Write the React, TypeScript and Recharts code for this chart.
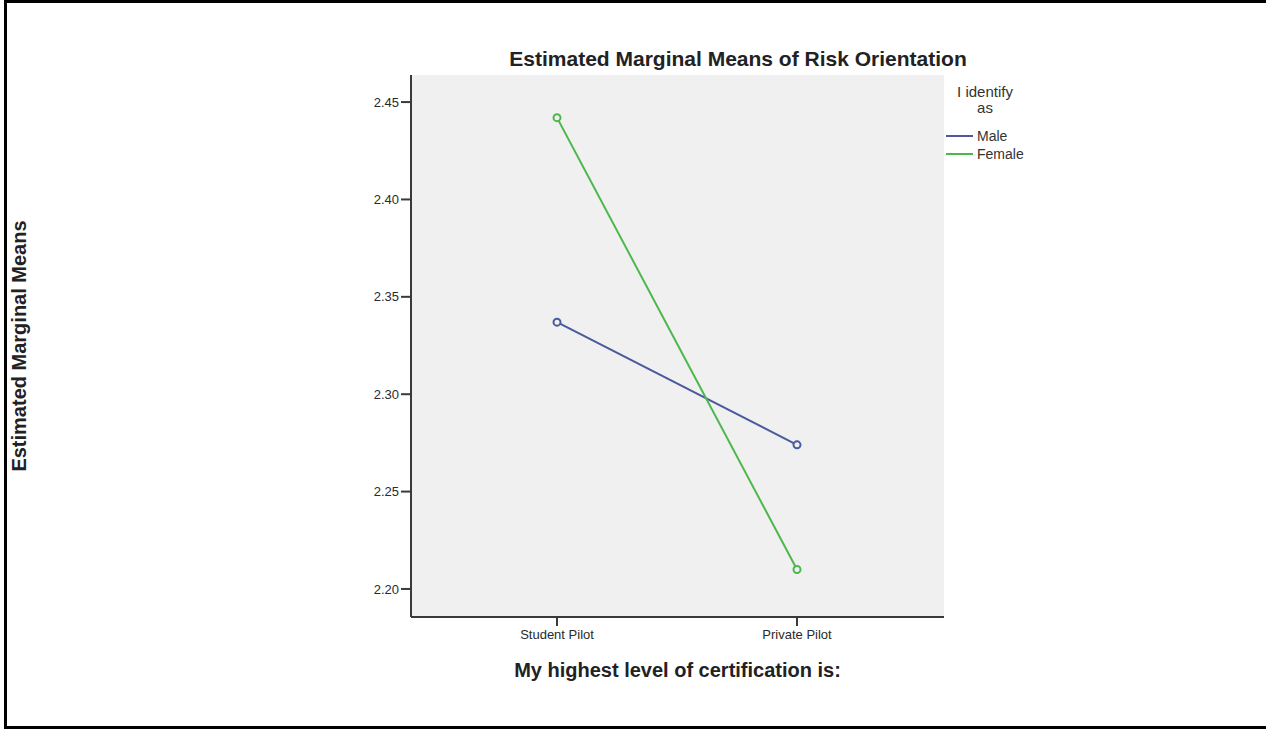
import { LineChart, Line, XAxis, YAxis, CartesianGrid } from 'recharts'

const certLevels = ['Student Pilot', 'Private Pilot']
const maleMeans = [2.337, 2.274]
const femaleMeans = [2.442, 2.21]
const yTicks = [2.2, 2.25, 2.3, 2.35, 2.4, 2.45]
const yDomain = [2.1856, 2.4639]

const series = [
  { key: 'male', name: 'Male', color: '#4a5a9c' },
  { key: 'female', name: 'Female', color: '#4cb84c' },
]

const data = certLevels.map((cert, i) => ({
  cert,
  male: maleMeans[i],
  female: femaleMeans[i],
}))

const font = '"Liberation Sans", Arial, sans-serif'
const axisColor = '#3a3a3a'

export default function App() {
  return (
    <div
      style={{
        position: 'absolute',
        left: 0,
        top: 0,
        width: 1266,
        height: 729,
        overflow: 'hidden',
        background: '#fff',
        fontFamily: font,
      }}
    >
      <div
        style={{
          position: 'absolute',
          left: 4,
          top: 0,
          width: 1300,
          height: 729,
          boxSizing: 'border-box',
          border: '3px solid #000',
        }}
      />
      <div style={{ position: 'absolute', left: 0, top: 0 }}>
        <LineChart
          width={1266}
          height={729}
          data={data}
          margin={{ top: 75, right: 322, bottom: 72, left: 341 }}
        >
          <CartesianGrid fill="#f0f0f0" horizontal={false} vertical={false} />
          <XAxis
            dataKey="cert"
            height={40}
            padding={{ left: 146, right: 147 }}
            axisLine={{ stroke: axisColor, strokeWidth: 2 }}
            tickLine={{ stroke: axisColor, strokeWidth: 2 }}
            tickSize={9}
            tickMargin={4}
            tick={{ fontSize: 13, fill: '#2a2a2a', fontFamily: font }}
          />
          <XAxis
            xAxisId="top"
            dataKey="cert"
            orientation="top"
            height={0}
            tick={false}
            tickLine={false}
            axisLine={{ stroke: axisColor, strokeWidth: 2 }}
          />
          <YAxis
            width={70}
            type="number"
            domain={yDomain}
            ticks={yTicks}
            interval={0}
            allowDataOverflow
            tickFormatter={(v: number) => v.toFixed(2)}
            axisLine={{ stroke: axisColor, strokeWidth: 2 }}
            tickLine={{ stroke: axisColor, strokeWidth: 2 }}
            tickSize={10}
            tickMargin={2}
            tick={{ fontSize: 13, fill: '#2a2a2a', fontFamily: font }}
          />
          <YAxis
            yAxisId="right"
            orientation="right"
            width={0}
            type="number"
            domain={yDomain}
            tick={false}
            tickLine={false}
            axisLine={{ stroke: axisColor, strokeWidth: 2 }}
          />
          {series.map((s) => (
            <Line
              key={s.key}
              type="linear"
              dataKey={s.key}
              name={s.name}
              stroke={s.color}
              strokeWidth={2}
              dot={{ r: 3.5, fill: '#f0f0f0', stroke: s.color, strokeWidth: 2 }}
              isAnimationActive={false}
            />
          ))}
        </LineChart>
      </div>

      <div
        style={{
          position: 'absolute',
          left: 411,
          width: 654,
          top: 47,
          textAlign: 'center',
          fontSize: 21,
          fontWeight: 'bold',
          color: '#222',
          whiteSpace: 'nowrap',
        }}
      >
        Estimated Marginal Means of Risk Orientation
      </div>

      <div
        style={{
          position: 'absolute',
          left: 411,
          width: 533,
          top: 659,
          textAlign: 'center',
          fontSize: 20,
          fontWeight: 'bold',
          color: '#222',
          whiteSpace: 'nowrap',
        }}
      >
        My highest level of certification is:
      </div>

      <div
        style={{
          position: 'absolute',
          left: 19,
          top: 346,
          transform: 'translate(-50%, -50%) rotate(-90deg)',
          fontSize: 20,
          fontWeight: 'bold',
          color: '#222',
          whiteSpace: 'nowrap',
        }}
      >
        Estimated Marginal Means
      </div>

      <div
        style={{
          position: 'absolute',
          left: 944,
          top: 84,
          width: 82,
          textAlign: 'center',
          fontSize: 15,
          lineHeight: '16px',
          color: '#333',
        }}
      >
        I identify
        <br />
        as
      </div>
      {series.map((s, i) => (
        <div
          key={s.key}
          style={{
            position: 'absolute',
            left: 946,
            top: 128 + i * 18,
            height: 16,
            display: 'flex',
            alignItems: 'center',
            fontSize: 14,
            color: '#333',
          }}
        >
          <div style={{ width: 27, height: 2, background: s.color, marginRight: 4 }} />
          {s.name}
        </div>
      ))}
    </div>
  )
}
